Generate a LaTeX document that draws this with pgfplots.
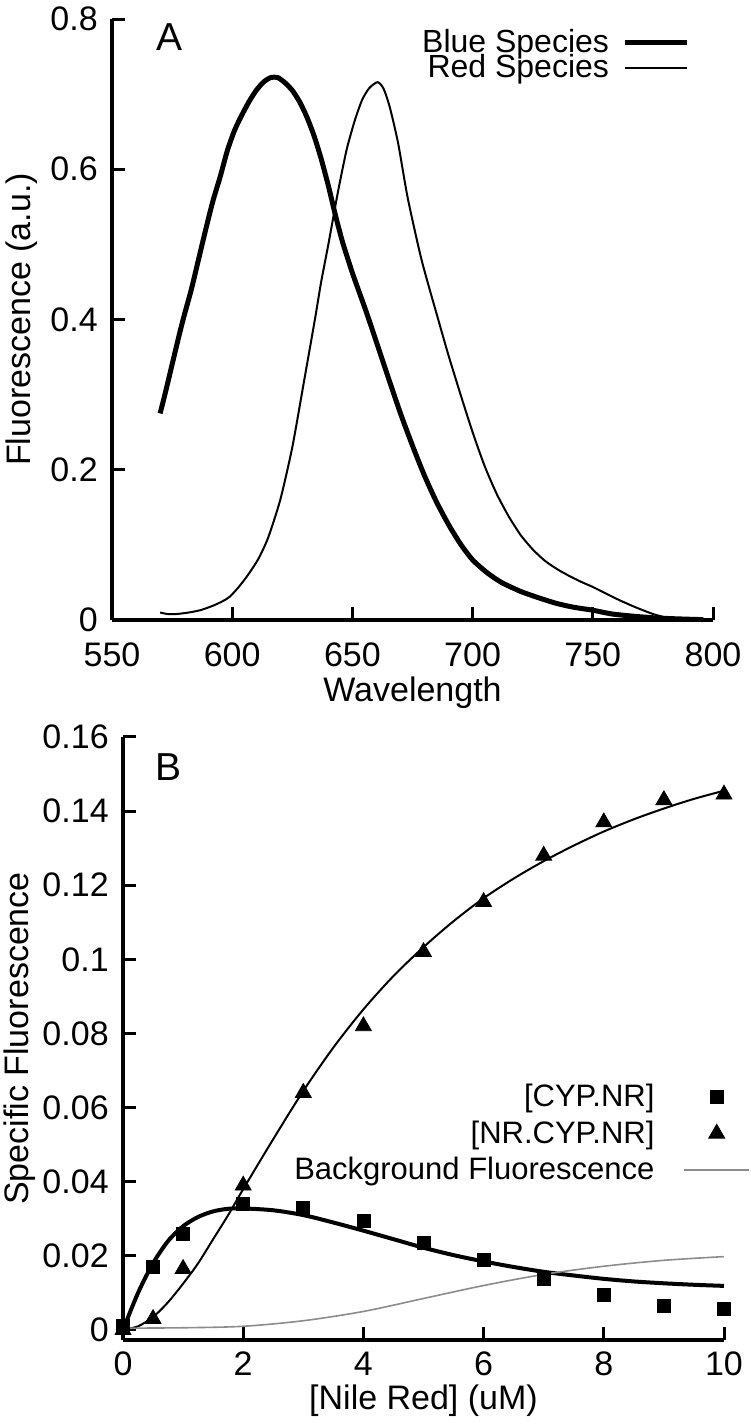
\documentclass[border=0pt]{standalone}
\usepackage{fontspec}
\setmainfont{Liberation Sans}
\usepackage{pgfplots}
\usepackage{pgfplotstable}
\pgfplotsset{compat=1.18}
\pgfplotsset{
 lineA/.style={legend image code/.code={\draw[##1] (0pt,0pt) -- (31pt,0pt);}},
 lineB/.style={legend image code/.code={\draw[##1] (0pt,0pt) -- (32.5pt,0pt);}},
 markB/.style={legend image code/.code={\draw[mark repeat=2,mark phase=2,##1] plot coordinates {(0pt,0pt) (16.25pt,0pt) (32.5pt,0pt)};}},
 myaxis/.style={
  scale only axis, axis lines=left,
  axis line style={line width=2pt},
  x axis line style={-}, y axis line style={-},
  tick align=inside, major tick length=6.5pt,
  tick style={line width=1.5pt, black},
  every tick label/.append style={font=\fontsize{17}{20}\selectfont},
  /pgf/number format/assume math mode=true,
  yticklabel style={xshift=-1.3pt},
  legend style={draw=none, fill=none, inner sep=0pt, outer sep=0pt,
    nodes={inner sep=0pt, text height=11pt, text depth=1.5pt}},
  legend cell align=right,
  legend plot pos=right,
  width=300.5pt,
  anchor=south west,
 },
}
\pgfplotstableread{
x y
570 0.275
572 0.30
575 0.34
578 0.38
580 0.405
583 0.44
586 0.48
589 0.52
592 0.558
595 0.59
598 0.625
601 0.652
604 0.672
607 0.69
610 0.705
613 0.716
616 0.722
619 0.722
622 0.715
625 0.705
628 0.69
631 0.67
634 0.645
637 0.614
640 0.578
643 0.538
646 0.502
650 0.462
653 0.435
656 0.408
660 0.37
665 0.322
670 0.275
675 0.232
680 0.192
685 0.157
690 0.127
695 0.101
700 0.080
706 0.063
712 0.050
720 0.038
728 0.029
735 0.022
742 0.017
750 0.013
758 0.008
767 0.005
775 0.003
781 0.002
790 0.001
796 0.0005
}\bluedata
\pgfplotstableread{
x y
570 0.010
573 0.008
577 0.008
582 0.010
587 0.0133
592 0.019
596 0.025
599 0.031
603 0.045
607 0.062
611 0.082
615 0.110
620 0.160
625 0.230
630 0.320
634.4 0.400
637 0.450
640 0.500
644 0.570
647.6 0.626
651 0.665
654 0.692
657 0.708
660.5 0.716
663 0.707
665.6 0.682
669 0.635
673 0.562
678.8 0.479
685.7 0.400
690 0.352
695 0.300
700 0.250
705 0.205
710 0.168
715 0.138
720 0.113
725 0.094
730 0.079
735 0.068
740 0.059
745 0.051
750 0.044
755 0.036
760 0.028
767 0.018
775 0.008
781 0.003
790 0.0005
798 0.0
}\reddata
\pgfplotstableread{
x y
0 0.001
0.5 0.017
1 0.026
2 0.034
3 0.033
4 0.0295
5 0.0235
6 0.019
7 0.0138
8 0.0095
9 0.0066
10 0.0056
}\cypnr
\pgfplotstableread{
x y
0 0.0
0.5 0.003
1 0.0165
2 0.039
3 0.064
4 0.082
5 0.102
6 0.1155
7 0.128
8 0.137
9 0.143
10 0.1445
}\nrcypnr
\pgfplotstableread{
x y
0 0
0.25 0.010
0.5 0.018
0.75 0.024
1 0.028
1.25 0.0305
1.5 0.032
1.75 0.0327
2 0.0328
2.5 0.0323
3 0.031
3.5 0.029
4 0.0268
4.5 0.0245
5 0.0222
5.5 0.0202
6 0.0185
6.5 0.017
7 0.0157
7.5 0.0147
8 0.0138
8.5 0.0131
9 0.0126
9.5 0.0122
10 0.0119
}\fitone
\pgfplotstableread{
x y
0 0
0.25 0.001
0.5 0.0035
0.75 0.0075
1 0.0125
1.25 0.018
1.5 0.0245
1.75 0.031
2 0.038
2.5 0.0515
3 0.0645
3.5 0.0762
4 0.0865
4.5 0.0955
5 0.1033
5.5 0.1103
6 0.1165
6.5 0.1218
7 0.1265
7.5 0.1307
8 0.1345
8.5 0.1378
9 0.1407
9.5 0.1433
10 0.1455
}\fittwo
\pgfplotstableread{
x y
0 0.0005
1 0.0006
2 0.001
3 0.0025
4 0.005
5 0.0085
6 0.012
7 0.015
8 0.0172
9 0.0188
10 0.0198
}\bgdata
\begin{document}
\fontsize{17}{20}\selectfont
\begin{tikzpicture}
\useasboundingbox (0pt,0pt) rectangle (375pt,712.5pt);
\begin{axis}[myaxis, at={(56pt,402.5pt)}, height=300.5pt,
  xmin=550, xmax=800, ymin=0, ymax=0.8,
  xtick={550,600,650,700,750,800},
  ytick={0,0.2,0.4,0.6,0.8},
  yticklabels={0,0.2,0.4,0.6,0.8},
  xticklabel style={yshift=-5.3pt},
  legend style={at={(0.9617,0.9817)}, anchor=north east, column sep=7pt, row sep=0pt,
    font=\fontsize{16}{18}\selectfont},
]
\addplot[black, line width=2.5pt, line join=round, smooth, tension=0.4, lineA] table[x=x,y=y] {\bluedata};
\addlegendentry{Blue Species}
\addplot[black, line width=1pt, line join=round, smooth, tension=0.4, lineA] table[x=x,y=y] {\reddata};
\addlegendentry{Red Species}
\node[font=\fontsize{19.5}{22}\selectfont] at (axis cs:574,0.776) {A};
\end{axis}
\begin{axis}[myaxis, at={(61.5pt,42.5pt)}, height=301.5pt,
  xmin=0, xmax=10, ymin=-0.0027, ymax=0.16,
  xtick={0,2,4,6,8,10},
  ytick={0,0.02,0.04,0.06,0.08,0.1,0.12,0.14,0.16},
  yticklabels={0,0.02,0.04,0.06,0.08,0.1,0.12,0.14,0.16},
  xticklabel style={yshift=0pt},
  legend style={at={(1.0433,0.4237)}, anchor=north east, column sep=14.5pt, row sep=5.75pt,
    font=\fontsize{15.5}{18}\selectfont},
]
\addplot[black, line width=2pt, smooth, forget plot] table[x=x,y=y] {\fitone};
\addplot[black, line width=1pt, smooth, forget plot] table[x=x,y=y] {\fittwo};
\addplot[black!45, line width=0.8pt, smooth, forget plot] table[x=x,y=y] {\bgdata};
\addplot[only marks, mark=square*, mark size=3.25pt, black, markB] table[x=x,y=y] {\cypnr};
\addlegendentry{[CYP.NR]}
\addplot[only marks, mark=triangle*, mark size=4.6pt, black, markB] table[x=x,y=y] {\nrcypnr};
\addlegendentry{[NR.CYP.NR]}
\addlegendimage{black!45, line width=0.8pt, lineB}
\addlegendentry{Background Fluorescence}
\node[font=\fontsize{19.5}{22}\selectfont] at (axis cs:0.75,0.152) {B};
\end{axis}
\node[anchor=base] at (206.25pt,361.5pt) {Wavelength};
\node[anchor=base] at (211.75pt,7.8pt) {[Nile Red] (uM)};
\node[rotate=90, anchor=base] at (15.5pt,552.75pt) {Fluorescence (a.u.)};
\node[rotate=90, anchor=base] at (14pt,193.25pt) {Specific Fluorescence};
\end{tikzpicture}
\end{document}
